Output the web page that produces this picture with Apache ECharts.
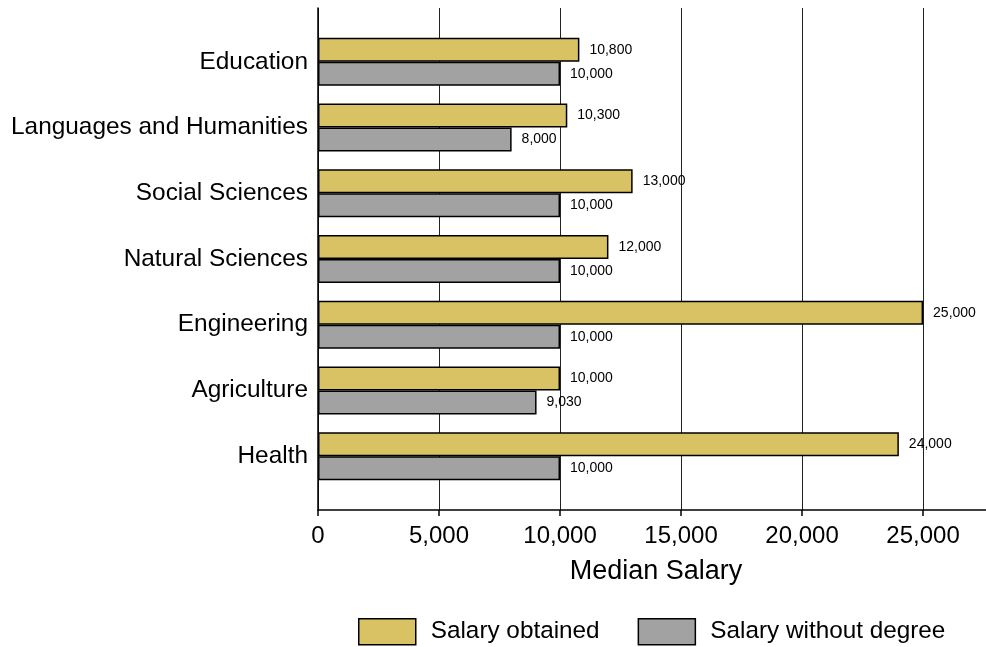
<!DOCTYPE html>
<html>
<head>
<meta charset="utf-8">
<script src="https://cdn.jsdelivr.net/npm/echarts@6/dist/echarts.min.js"></script>
<style>
  html, body { margin: 0; padding: 0; background: #fff; }
  #chart { width: 986px; height: 647px; }
</style>
</head>
<body>
<div id="chart"></div>
<script>
// Fields of study, top to bottom
const categories = [
  'Education',
  'Languages and Humanities',
  'Social Sciences',
  'Natural Sciences',
  'Engineering',
  'Agriculture',
  'Health'
];
// Median salary with the degree obtained
const salaryObtained = [10800, 10300, 13000, 12000, 25000, 10000, 24000];
// Median salary without the degree
const salaryWithoutDegree = [10000, 8000, 10000, 10000, 10000, 9030, 10000];
const xTicks = [0, 5000, 10000, 15000, 20000, 25000];

const FONT = '"Liberation Sans", Arial, Helvetica, sans-serif';
const fmt = v => Number(v).toLocaleString('en-US');
const X_MAX = 27600;

const chart = echarts.init(document.getElementById('chart'), null, { renderer: 'canvas' });

chart.setOption({
  animation: false,
  textStyle: { fontFamily: FONT, color: '#000' },
  grid: [
    // frame: axis lines, ticks and vertical grid lines
    { left: 318, width: 668, top: 8, height: 502, outerBoundsMode: 'none', containLabel: false },
    // bars area, with a margin above and below the categories
    { left: 318, width: 668, top: 29, height: 460, outerBoundsMode: 'none', containLabel: false }
  ],
  xAxis: [
    {
      gridIndex: 0,
      type: 'value',
      min: 0,
      max: X_MAX,
      interval: 5000,
      name: 'Median Salary',
      nameLocation: 'middle',
      nameGap: 48,
      nameTextStyle: { fontSize: 27, fontFamily: FONT, color: '#000', padding: [0, 0, 0, 8] },
      axisLine: { show: true, lineStyle: { color: '#000', width: 1.5 } },
      axisTick: {
        show: true,
        length: 6,
        customValues: xTicks,
        lineStyle: { color: '#000', width: 1.5 }
      },
      axisLabel: {
        fontSize: 24,
        fontFamily: FONT,
        color: '#000',
        margin: 14,
        formatter: v => (xTicks.indexOf(v) >= 0 ? fmt(v) : '')
      },
      splitLine: { show: true, lineStyle: { color: '#222', width: 1 } }
    },
    {
      gridIndex: 1,
      type: 'value',
      min: 0,
      max: X_MAX,
      show: false
    }
  ],
  yAxis: [
    {
      gridIndex: 0,
      type: 'value',
      min: 0,
      max: 1,
      axisLine: { show: true, lineStyle: { color: '#000', width: 1.5 } },
      axisTick: { show: false },
      axisLabel: { show: false },
      splitLine: { show: false }
    },
    {
      gridIndex: 1,
      type: 'category',
      inverse: true,
      data: categories,
      axisLine: { show: false },
      axisTick: { show: false },
      axisLabel: {
        fontSize: 24.4,
        fontFamily: FONT,
        color: '#000',
        margin: 10,
        padding: [7, 0, 0, 0]
      }
    }
  ],
  legend: {
    left: 358,
    top: 618,
    padding: 0,
    icon: 'rect',
    itemWidth: 57,
    itemHeight: 26,
    itemGap: 38,
    itemStyle: { borderColor: '#000', borderWidth: 1.5 },
    textStyle: { fontSize: 24.3, fontFamily: FONT, color: '#000', padding: [0, 0, 0, 10] },
    data: ['Salary obtained', 'Salary without degree']
  },
  series: [
    {
      name: 'Salary obtained',
      type: 'bar',
      xAxisIndex: 1,
      yAxisIndex: 1,
      data: salaryObtained,
      barWidth: 24,
      barGap: '0%',
      itemStyle: { color: '#D9C264', borderColor: '#000', borderWidth: 1.5 },
      label: {
        show: true,
        position: 'right',
        distance: 10,
        fontSize: 14,
        fontFamily: FONT,
        color: '#000',
        formatter: p => fmt(p.value)
      }
    },
    {
      name: 'Salary without degree',
      type: 'bar',
      xAxisIndex: 1,
      yAxisIndex: 1,
      data: salaryWithoutDegree,
      barWidth: 24,
      barGap: '0%',
      itemStyle: { color: '#A2A2A2', borderColor: '#000', borderWidth: 1.5 },
      label: {
        show: true,
        position: 'right',
        distance: 10,
        fontSize: 14,
        fontFamily: FONT,
        color: '#000',
        formatter: p => fmt(p.value)
      }
    }
  ]
});
</script>
</body>
</html>
